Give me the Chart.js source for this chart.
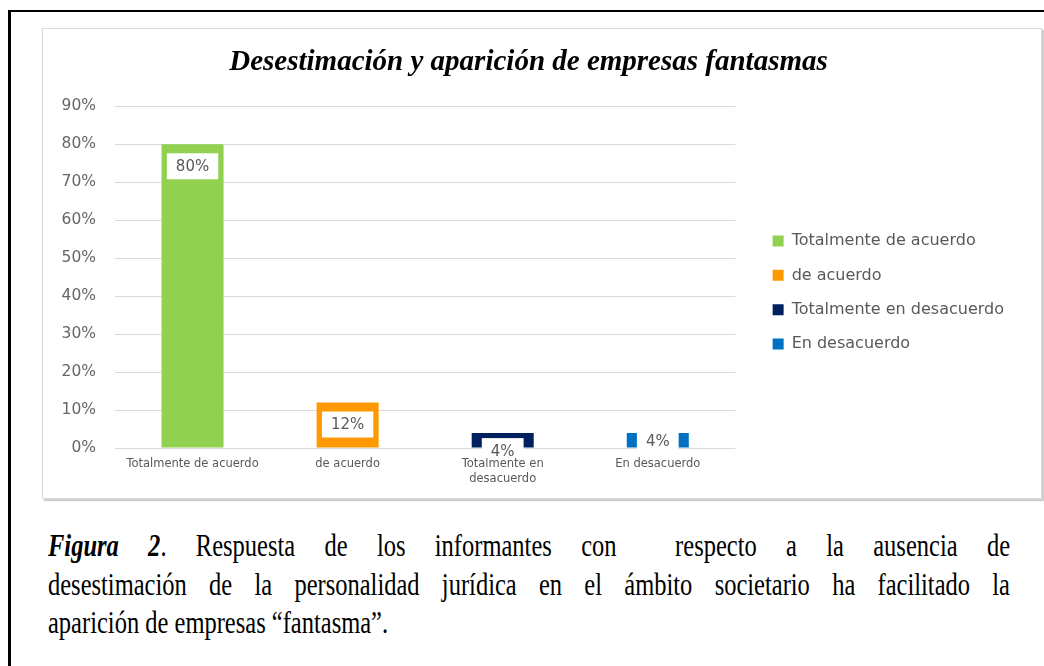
<!DOCTYPE html>
<html>
<head>
<meta charset="utf-8">
<script src="https://cdn.jsdelivr.net/npm/chart.js@4.4.1/dist/chart.umd.min.js"></script>
<style>
  body { margin: 0; background: #fff; width: 1044px; height: 666px; overflow: hidden; position: relative; }
  #frame { position: absolute; left: 8px; top: 10px; width: 1100px; height: 700px; border-top: 2px solid #000; border-left: 3px solid #000; }
  #box { position: absolute; left: 42px; top: 28px; width: 998px; height: 469px; border: 1px solid #d9d9d9; box-shadow: 2px 2px 1px #cfcfcf; }
  #caption { position: absolute; left: 48px; top: 527px; width: 962px; font-family: "Liberation Serif", "Times New Roman", serif;
             font-size: 24.5px; line-height: 30.8px; color: #000; transform: scaleY(1.25); transform-origin: 0 0; }
  #caption div { text-align: justify; text-align-last: justify; white-space: nowrap; }
  #caption div.last { text-align-last: left; }
</style>
</head>
<body>
<div id="frame"></div>
<div id="box"><canvas id="chart"></canvas></div>
<div id="caption">
  <div><b><i>Figura 2</i></b>. Respuesta de los informantes con&nbsp; respecto a la ausencia de</div>
  <div>desestimación de la personalidad jurídica en el ámbito societario ha facilitado la</div>
  <div class="last">aparición de empresas “fantasma”.</div>
</div>
<script>
// datos del gráfico
const categories = ["Totalmente de acuerdo", "de acuerdo", ["Totalmente en", "desacuerdo"], "En desacuerdo"];
const seriesNames = ["Totalmente de acuerdo", "de acuerdo", "Totalmente en desacuerdo", "En desacuerdo"];
const values = [80, 12, 4, 4];
const yMax = 90;
const yStep = 10;

const barColors = ["#92D050", "#FF9900", "#002060", "#0070C0"];
const labelDrop = [0, 0, 10, 0];

// etiquetas blancas sobre las barras
const barLabels = {
    id: "barLabels",
    afterDatasetsDraw(chart) {
        const ctx = chart.ctx;
        const meta = chart.getDatasetMeta(0);
        const base = chart.scales.y.getPixelForValue(0);
        ctx.save();
        ctx.font = '15px "DejaVu Sans"';
        ctx.textAlign = "center";
        ctx.textBaseline = "middle";
        meta.data.forEach(function (bar, i) {
            const txt = values[i] + "%";
            const w = ctx.measureText(txt).width + 18;
            const cy = Math.min(bar.y + 22, base - 7) + labelDrop[i];
            const top = cy - 13;
            const bottom = Math.min(cy + 13, base + 10);
            ctx.fillStyle = "#FFFFFF";
            ctx.fillRect(bar.x - w / 2, top, w, bottom - top);
            ctx.fillStyle = "#595959";
            ctx.fillText(txt, bar.x, cy + 1);
        });
        ctx.restore();
    }
};

new Chart(document.getElementById("chart"), {
    type: "bar",
    data: {
        labels: categories,
        datasets: [{
            data: values,
            backgroundColor: barColors,
            borderWidth: 0,
            barPercentage: 0.4,
            categoryPercentage: 1
        }]
    },
    options: {
        responsive: true,
        maintainAspectRatio: false,
        animation: false,
        layout: {
            padding: { left: 0, right: 27, top: 0, bottom: 3 }
        },
        plugins: {
            tooltip: { enabled: false },
            title: {
                display: true,
                text: "Desestimación y aparición de empresas fantasmas",
                color: "#000",
                font: { family: '"Liberation Serif", "Times New Roman", serif', size: 29, style: "italic", weight: "bold" },
                padding: { top: 16.5, bottom: 26 }
            },
            legend: {
                position: "right",
                maxWidth: 400,
                onClick: null,
                title: {
                    display: true,
                    text: "",
                    font: { size: 10 },
                    padding: { top: 49, bottom: 0 }
                },
                labels: {
                    boxWidth: 11,
                    boxHeight: 11,
                    padding: 18.3,
                    color: "#595959",
                    font: { family: '"DejaVu Sans"', size: 16 },
                    generateLabels: function () {
                        return seriesNames.map(function (name, i) {
                            return {
                                text: name,
                                fillStyle: barColors[i],
                                strokeStyle: barColors[i],
                                lineWidth: 0,
                                fontColor: "#595959",
                                hidden: false,
                                index: i
                            };
                        });
                    }
                }
            }
        },
        scales: {
            x: {
                grid: { display: false, drawTicks: false },
                border: { display: false },
                ticks: {
                    color: "#595959",
                    font: { family: '"DejaVu Sans"', size: 11.5, lineHeight: 1.3 },
                    padding: 8.5,
                    maxRotation: 0,
                    autoSkip: false
                }
            },
            y: {
                min: 0,
                max: yMax,
                border: { display: false },
                grid: { color: "#D9D9D9", drawTicks: false },
                ticks: {
                    stepSize: yStep,
                    color: "#666666",
                    padding: 19,
                    font: { family: '"DejaVu Sans"', size: 15.5 },
                    callback: function (v) { return v + "%"; }
                },
                afterFit: function (s) { s.width = 72; }
            },
            y2: {
                type: "linear",
                position: "right",
                grid: { display: false },
                border: { display: false },
                ticks: { display: false },
                afterFit: function (s) { s.width = 19; }
            }
        }
    },
    plugins: [barLabels]
});
</script>
</body>
</html>
